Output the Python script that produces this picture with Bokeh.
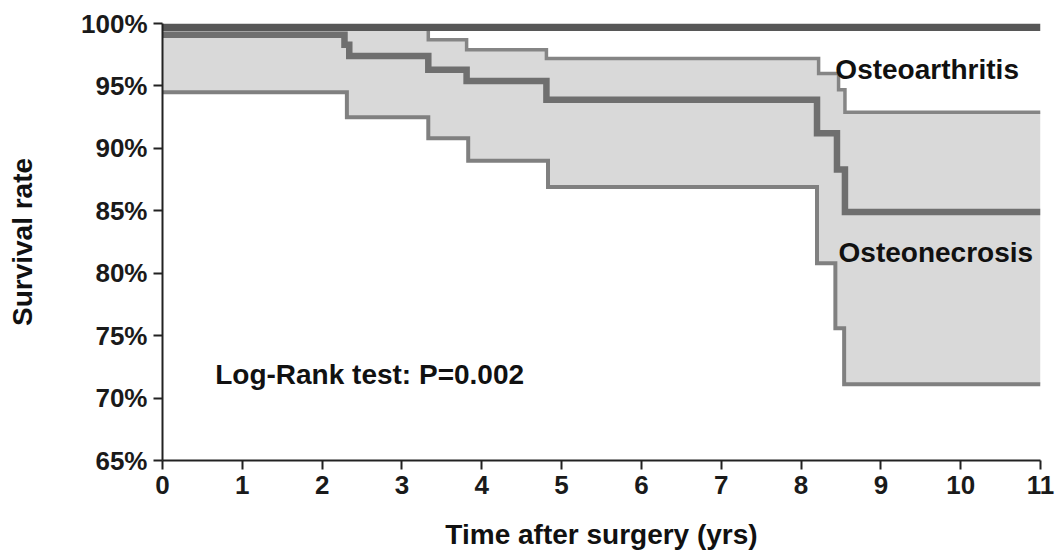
from bokeh.plotting import figure
from bokeh.models import FixedTicker, PrintfTickFormatter, Label
from bokeh.embed import file_html
from bokeh.resources import INLINE

# ---- data ----
oa_time = [0, 11]
oa_surv = [99.7, 99.7]

on_time = [0, 2.28, 2.34, 3.33, 3.81, 4.81, 8.20, 8.45, 8.55, 11]
on_surv = [99.1, 98.3, 97.4, 96.3, 95.4, 93.9, 91.2, 88.3, 84.9, 84.9]

up_time = [0, 3.33, 3.81, 4.81, 8.22, 8.47, 8.55, 11]
up_surv = [99.8, 98.7, 97.9, 97.2, 96.0, 94.7, 92.9, 92.9]

lo_time = [0, 2.31, 3.33, 3.83, 4.83, 8.20, 8.43, 8.54, 11]
lo_surv = [94.5, 92.5, 90.8, 89.0, 86.9, 80.8, 75.6, 71.1, 71.1]

x_ticks = list(range(0, 12))
y_ticks = [65, 70, 75, 80, 85, 90, 95, 100]


def step_val(ts, vs, t):
    v = vs[0]
    for ti, vi in zip(ts, vs):
        if ti <= t:
            v = vi
    return v


band_x = sorted(set(up_time) | set(lo_time))
band_up = [step_val(up_time, up_surv, t) for t in band_x]
band_lo = [step_val(lo_time, lo_surv, t) for t in band_x]

FONT = "Liberation Sans"

p = figure(width=1059, height=552, output_backend="svg", toolbar_location=None,
           x_range=(0, 11), y_range=(65, 100),
           min_border_left=162, min_border_right=19, min_border_top=23,
           min_border_bottom=92)
p.outline_line_color = None
p.grid.visible = False
p.background_fill_color = "white"

p.varea_step(x=band_x, y1=band_lo, y2=band_up, step_mode="after",
             fill_color="#d9d9d9")
p.step(up_time, up_surv, mode="after", line_color="#858585", line_width=3.5,
       line_join="miter")
p.step(lo_time, lo_surv, mode="after", line_color="#808080", line_width=4,
       line_join="miter")
p.step(on_time, on_surv, mode="after", line_color="#6f6f6f", line_width=6.5,
       line_join="miter")
p.line(oa_time, oa_surv, line_color="#575757", line_width=7.5)

for ax in (p.xaxis[0], p.yaxis[0]):
    ax.axis_line_width = 2
    ax.axis_line_color = "#222222"
    ax.major_tick_line_width = 2
    ax.major_tick_line_color = "#222222"
    ax.major_tick_out = 9
    ax.major_tick_in = 0
    ax.minor_tick_line_color = None
    ax.major_label_text_font = FONT
    ax.major_label_text_font_style = "bold"
    ax.major_label_text_font_size = "26px"
    ax.major_label_text_color = "#1a1a1a"
    ax.major_label_standoff = 6
    ax.axis_label_text_font = FONT
    ax.axis_label_text_font_style = "bold"
    ax.axis_label_text_font_size = "28px"
    ax.axis_label_text_color = "#111111"

p.xaxis.ticker = FixedTicker(ticks=x_ticks)
p.yaxis.ticker = FixedTicker(ticks=y_ticks)
p.yaxis.formatter = PrintfTickFormatter(format="%d%%")
p.xaxis.axis_label = "Time after surgery (yrs)"
p.yaxis.axis_label = "Survival rate"
p.xaxis.axis_label_standoff = 22
p.yaxis.axis_label_standoff = 40

for txt, x, y in [("Osteoarthritis", 8.43, 96.28),
                  ("Osteonecrosis", 8.47, 81.62),
                  ("Log-Rank test: P=0.002", 0.66, 71.85)]:
    p.add_layout(Label(x=x, y=y, text=txt, text_font=FONT,
                       text_font_style="bold", text_font_size="28px",
                       text_color="#111111", text_baseline="alphabetic"))

open("out.html", "w").write(file_html(p, INLINE))
